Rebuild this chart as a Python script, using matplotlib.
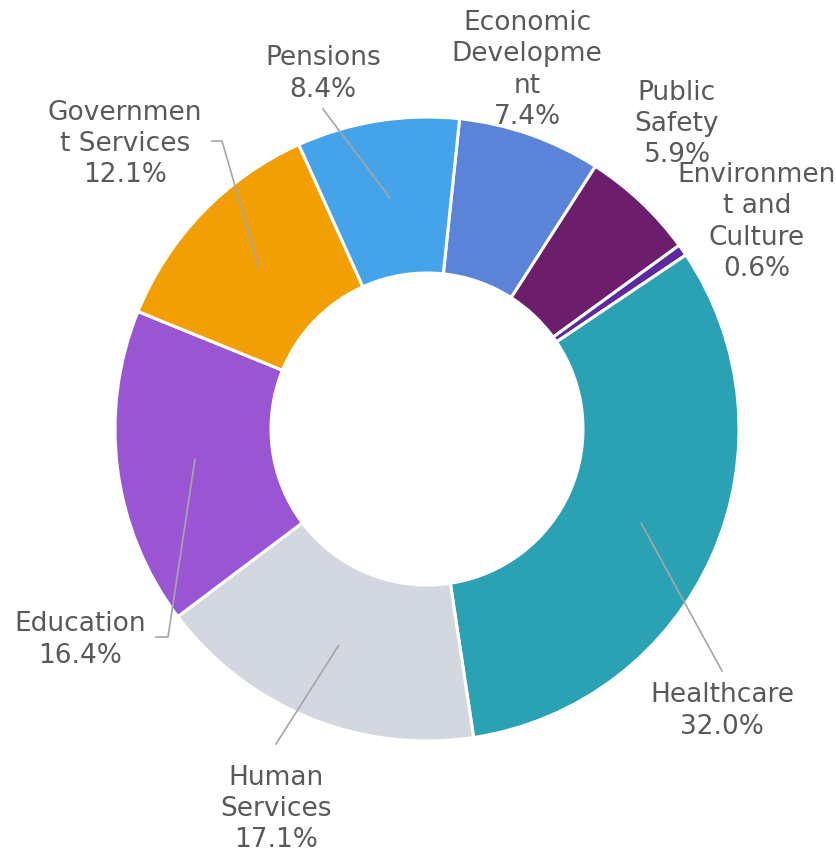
import numpy as np
import matplotlib
matplotlib.use("Agg")
import matplotlib.pyplot as plt

# data, clockwise from top
labels = ["Economic\nDevelopme\nnt", "Public\nSafety", "Environmen\nt and\nCulture",
          "Healthcare", "Human\nServices", "Education", "Governmen\nt Services", "Pensions"]
values = [7.4, 5.9, 0.6, 32.0, 17.1, 16.4, 12.1, 8.4]
colors = ["#5B83D8", "#6C1D6B", "#5C2A9C", "#2AA2B3", "#D3D7E0", "#9A55D2", "#F29F05", "#45A4E9"]

# label block centres in pixels (layout only)
label_pos = [(527, 70), (677, 124), (757, 222), (722, 711), (276, 809), (80, 640), (125, 144), (323, 74)]
# leader line outer ends in pixels (None = no leader); elbow given as extra point
leaders = [None, None, None, [(722, 672)], [(276, 745)], [(156, 638), (168, 638)],
           [(212, 142), (222, 142)], [(323, 110)]]

W, H, DPI = 836, 854, 100
cx, cy, R = 427, 430, 312
start = 6  # degrees clockwise from top


def to_data(p):
    return ((p[0] - cx) / R, (cy - p[1]) / R)


fig = plt.figure(figsize=(W / DPI, H / DPI), dpi=DPI)
ax = fig.add_axes([0, 0, 1, 1])
wedges, _ = ax.pie(values, colors=colors, startangle=90 - start, counterclock=False,
                   radius=1, wedgeprops=dict(width=0.5, edgecolor="white", linewidth=2.2))
ax.set_xlim(-cx / R, (W - cx) / R)
ax.set_ylim((cy - H) / R, cy / R)
ax.axis("off")

total = sum(values)
cum = 0
for i, v in enumerate(values):
    mid = np.radians(start + (cum + v / 2) / total * 360)
    cum += v
    if leaders[i] is not None:
        inner = (0.75 * np.sin(mid), 0.75 * np.cos(mid))
        pts = [to_data(p) for p in leaders[i]] + [inner]
        xs, ys = zip(*pts)
        ax.plot(xs, ys, color="#A6A6A6", lw=1.2, zorder=1.5)
    tx, ty = to_data(label_pos[i])
    ax.text(tx, ty, f"{labels[i]}\n{v:.1f}%", ha="center", va="center",
            multialignment="center", fontsize=19, color="#595959",
            family="DejaVu Sans", linespacing=1.27, zorder=3)

fig.savefig("out.png", dpi=DPI)
